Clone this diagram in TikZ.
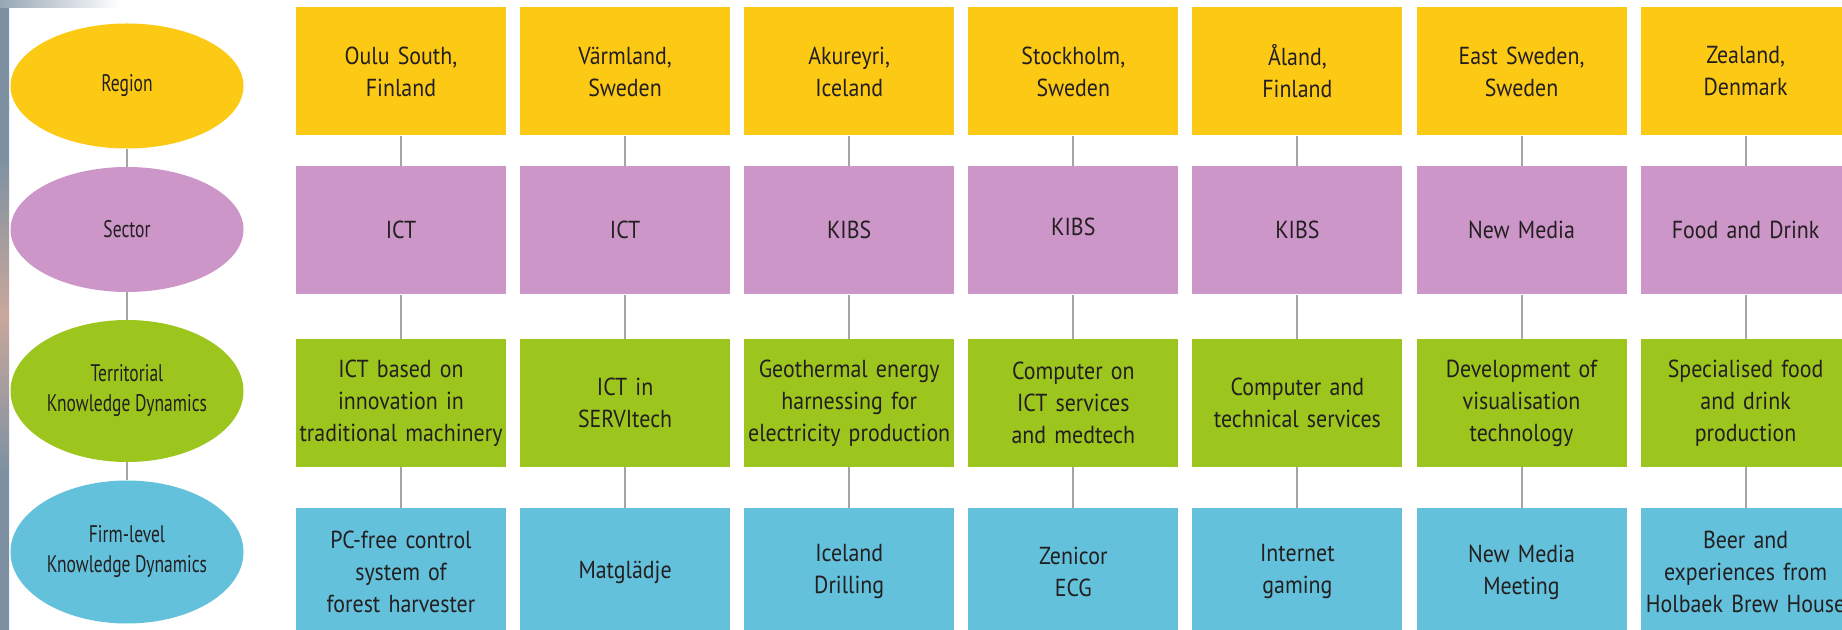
\documentclass[tikz,border=0pt]{standalone}
\usepackage{fontspec}
\setmainfont[FakeStretch=0.89]{PT Sans}
\newfontfamily\narrowfont[FakeStretch=0.73]{PT Sans}
\usepackage{tikz}
\usetikzlibrary{positioning, shapes.geometric}

\definecolor{regionyellow}{HTML}{FCC915}
\definecolor{sectorpink}{HTML}{CC96C8}
\definecolor{terrgreen}{HTML}{9CC61D}
\definecolor{firmblue}{HTML}{63C1DC}
\definecolor{linegray}{HTML}{A5A5A5}
\definecolor{textdark}{HTML}{231F20}
\definecolor{stripblue}{HTML}{7D91A2}
\definecolor{strippeach}{HTML}{C9A79C}

\begin{document}
\begin{tikzpicture}[
      x=0.5pt, y=-0.5pt,
      node distance=15pt and 6.65pt,
      box/.style={rectangle, minimum width=105pt, minimum height=64pt, inner sep=0pt,
        text width=105pt, align=center, text=textdark, font=\fontsize{12.3}{16}\selectfont},
      oval/.style={ellipse, minimum width=116.5pt, inner sep=0pt, align=center,
        text=textdark, font=\narrowfont\fontsize{12}{15}\selectfont},
      reg/.style={box, fill=regionyellow},
      sec/.style={box, fill=sectorpink},
      ter/.style={box, fill=terrgreen},
      firm/.style={box, fill=firmblue},
      link/.style={draw=linegray, line width=1pt}
    ]
      \useasboundingbox (0,0) rectangle (1842,630);
      \fill[white] (0,0) rectangle (1842,630);

% Photo edge behind the chart
      \shade[top color=stripblue, bottom color=strippeach, middle color=stripblue] (0,0) rectangle (9,315);
      \shade[top color=strippeach, bottom color=stripblue, middle color=stripblue] (0,315) rectangle (9,630);
      \shade[left color=stripblue!80, right color=white] (0,0) rectangle (120,8);

% Level labels
      \node[oval, fill=regionyellow, minimum height=62.5pt] (lregion) at (127,86) {Region};
      \node[oval, fill=sectorpink, minimum height=62.5pt] (lsector) at (127,229.5) {Sector};
      \node[oval, fill=terrgreen, minimum height=71pt] (lterr) at (127,391) {Territorial\\Knowledge Dynamics};
      \node[oval, fill=firmblue, minimum height=71.5pt] (lfirm) at (127,552) {Firm-level\\Knowledge Dynamics};

% Regions
      \node[reg] (reg1) at (401,71.5) {Oulu South,\\Finland};
      \node[reg, right=of reg1] (reg2) {Värmland,\\Sweden};
      \node[reg, right=of reg2] (reg3) {Akureyri,\\Iceland};
      \node[reg, right=of reg3] (reg4) {Stockholm,\\Sweden};
      \node[reg, right=of reg4] (reg5) {Åland,\\Finland};
      \node[reg, right=of reg5] (reg6) {East Sweden,\\Sweden};
      \node[reg, right=of reg6] (reg7) {Zealand,\\Denmark};

% Sectors
      \node[sec, below=of reg1] (sec1) {ICT};
      \node[sec, below=of reg2] (sec2) {ICT};
      \node[sec, below=of reg3] (sec3) {KIBS};
      \node[sec, below=of reg4] (sec4) {\raisebox{4pt}{KIBS}};
      \node[sec, below=of reg5] (sec5) {KIBS};
      \node[sec, below=of reg6] (sec6) {\raisebox{-5pt}{New Media}};
      \node[sec, below=of reg7] (sec7) {Food and Drink};

% Territorial knowledge dynamics
      \node[ter, below=22pt of sec1] (ter1) {ICT based on\\innovation in\\traditional machinery};
      \node[ter, below=22pt of sec2] (ter2) {ICT in\\SERVItech};
      \node[ter, below=22pt of sec3] (ter3) {Geothermal energy\\harnessing for\\electricity production};
      \node[ter, below=22pt of sec4] (ter4) {Computer on\\ICT services\\and medtech};
      \node[ter, below=22pt of sec5] (ter5) {Computer and\\technical services};
      \node[ter, below=22pt of sec6] (ter6) {Development of\\visualisation\\technology};
      \node[ter, below=22pt of sec7] (ter7) {Specialised food\\and drink\\production};

% Firm-level knowledge dynamics
      \node[firm, below=20pt of ter1] (firm1) {PC-free control\\system of\\forest harvester};
      \node[firm, below=20pt of ter2] (firm2) {Matglädje};
      \node[firm, below=20pt of ter3] (firm3) {Iceland\\Drilling};
      \node[firm, below=20pt of ter4] (firm4) {Zenicor\\ECG};
      \node[firm, below=20pt of ter5] (firm5) {Internet\\gaming};
      \node[firm, below=20pt of ter6] (firm6) {New Media\\Meeting};
      \node[firm, below=20pt of ter7] (firm7) {Beer and\\experiences from\\Holbaek Brew House};

% Links
      \draw[link] (lregion) -- (lsector);
      \draw[link] (lsector) -- (lterr);
      \draw[link] (lterr) -- (lfirm);

      \draw[link] (reg1) -- (sec1) (sec1) -- (ter1) (ter1) -- (firm1);
      \draw[link] (reg2) -- (sec2) (sec2) -- (ter2) (ter2) -- (firm2);
      \draw[link] (reg3) -- (sec3) (sec3) -- (ter3) (ter3) -- (firm3);
      \draw[link] (reg4) -- (sec4) (sec4) -- (ter4) (ter4) -- (firm4);
      \draw[link] (reg5) -- (sec5) (sec5) -- (ter5) (ter5) -- (firm5);
      \draw[link] (reg6) -- (sec6) (sec6) -- (ter6) (ter6) -- (firm6);
      \draw[link] (reg7) -- (sec7) (sec7) -- (ter7) (ter7) -- (firm7);
    \end{tikzpicture}
\end{document}
